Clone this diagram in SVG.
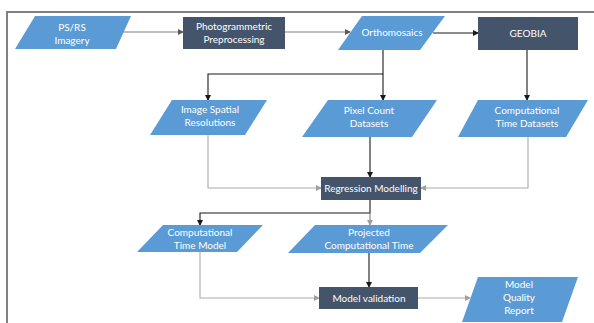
<svg xmlns="http://www.w3.org/2000/svg" width="594" height="323" viewBox="0 0 594 323">
<style>
.io{fill:#5B9BD5;}
.pr{fill:#44546A;}
text{font-family:Lato,"Liberation Sans",sans-serif;font-size:10px;fill:#FFFFFF;text-anchor:middle;}
.k{fill:none;stroke:#1a1a1a;stroke-width:1.1;}
.g{fill:none;stroke:#7f7f7f;stroke-width:1.1;}
.lg{fill:none;stroke:#ababab;stroke-width:1.1;}
</style>
<defs>
<marker id="ak" markerWidth="6" markerHeight="6" refX="5" refY="3" orient="auto" markerUnits="userSpaceOnUse"><path d="M0,0 L6,3 L0,6 z" fill="#1a1a1a"/></marker>
<marker id="ag" markerWidth="6" markerHeight="6" refX="5" refY="3" orient="auto" markerUnits="userSpaceOnUse"><path d="M0,0 L6,3 L0,6 z" fill="#595959"/></marker>
<marker id="alg" markerWidth="6" markerHeight="6" refX="5" refY="3" orient="auto" markerUnits="userSpaceOnUse"><path d="M0,0 L6,3 L0,6 z" fill="#a0a0a0"/></marker>
</defs>
<rect x="0" y="0" width="594" height="323" fill="#FFFFFF"/>
<path d="M7,330 V12 H600" fill="none" stroke="#808080" stroke-width="2"/>
<g id="connectors">
<path class="g" d="M120,32 H183" marker-end="url(#ag)"/>
<path class="g" d="M285,32 H350" marker-end="url(#ag)"/>
<path class="k" d="M433,33 H478" marker-end="url(#ak)"/>
<path class="k" d="M383,50 V100" marker-end="url(#ak)"/>
<path class="k" d="M383,74 H208 V100" marker-end="url(#ak)"/>
<path class="k" d="M527,50 V100" marker-end="url(#ak)"/>
<path class="lg" d="M208,135 V188 H321" marker-end="url(#alg)"/>
<path class="k" d="M370,137 V177" marker-end="url(#ak)"/>
<path class="lg" d="M528,137 V188 H421" marker-end="url(#alg)"/>
<path class="k" d="M370,200 V213 H200 V225" marker-end="url(#ak)"/>
<path class="g" d="M370,213 V225" marker-end="url(#alg)"/>
<path class="k" d="M369,253 V287" marker-end="url(#ak)"/>
<path class="lg" d="M200,252 V298 H319" marker-end="url(#alg)"/>
<path class="lg" d="M418,298 H470" marker-end="url(#alg)"/>
</g>
<g id="psrs"><polygon class="io" points="35,16 131,16 116,49 15,49"/><text x="72" y="31">PS/RS</text><text x="72" y="44">Imagery</text></g>
<g id="photo"><rect class="pr" x="183" y="17" width="102" height="32"/><text x="234" y="30">Photogrammetric</text><text x="234" y="43">Preprocessing</text></g>
<g id="ortho"><polygon class="io" points="362,16 445,16 420,50 338,50"/><text x="392" y="36">Orthomosaics</text></g>
<g id="geobia"><rect class="pr" x="478" y="17" width="100" height="33"/><text x="528" y="37">GEOBIA</text></g>
<g id="isr"><polygon class="io" points="172,100 267,100 245,135 150,135"/><text x="210" y="113">Image Spatial</text><text x="210" y="126">Resolutions</text></g>
<g id="pcd"><polygon class="io" points="328,100 437,100 412,137 302,137"/><text x="369" y="114">Pixel Count</text><text x="369" y="127">Datasets</text></g>
<g id="ctd"><polygon class="io" points="478,100 588,100 566,137 458,137"/><text x="527" y="114">Computational</text><text x="527" y="127">Time Datasets</text></g>
<g id="reg"><rect class="pr" x="321" y="177" width="100" height="23"/><text x="371" y="192">Regression Modelling</text></g>
<g id="ctm"><polygon class="io" points="163,225 263,225 237,252 137,252"/><text x="200" y="236">Computational</text><text x="200" y="249">Time Model</text></g>
<g id="pct"><polygon class="io" points="315,225 448,225 420,253 288,253"/><text x="369" y="236">Projected</text><text x="369" y="249">Computational Time</text></g>
<g id="mv"><rect class="pr" x="319" y="287" width="99" height="22"/><text x="369" y="302">Model validation</text></g>
<g id="mqr"><polygon class="io" points="478,277 578,277 562,322 462,322"/><text x="519" y="288">Model</text><text x="519" y="301">Quality</text><text x="519" y="314">Report</text></g>
</svg>
